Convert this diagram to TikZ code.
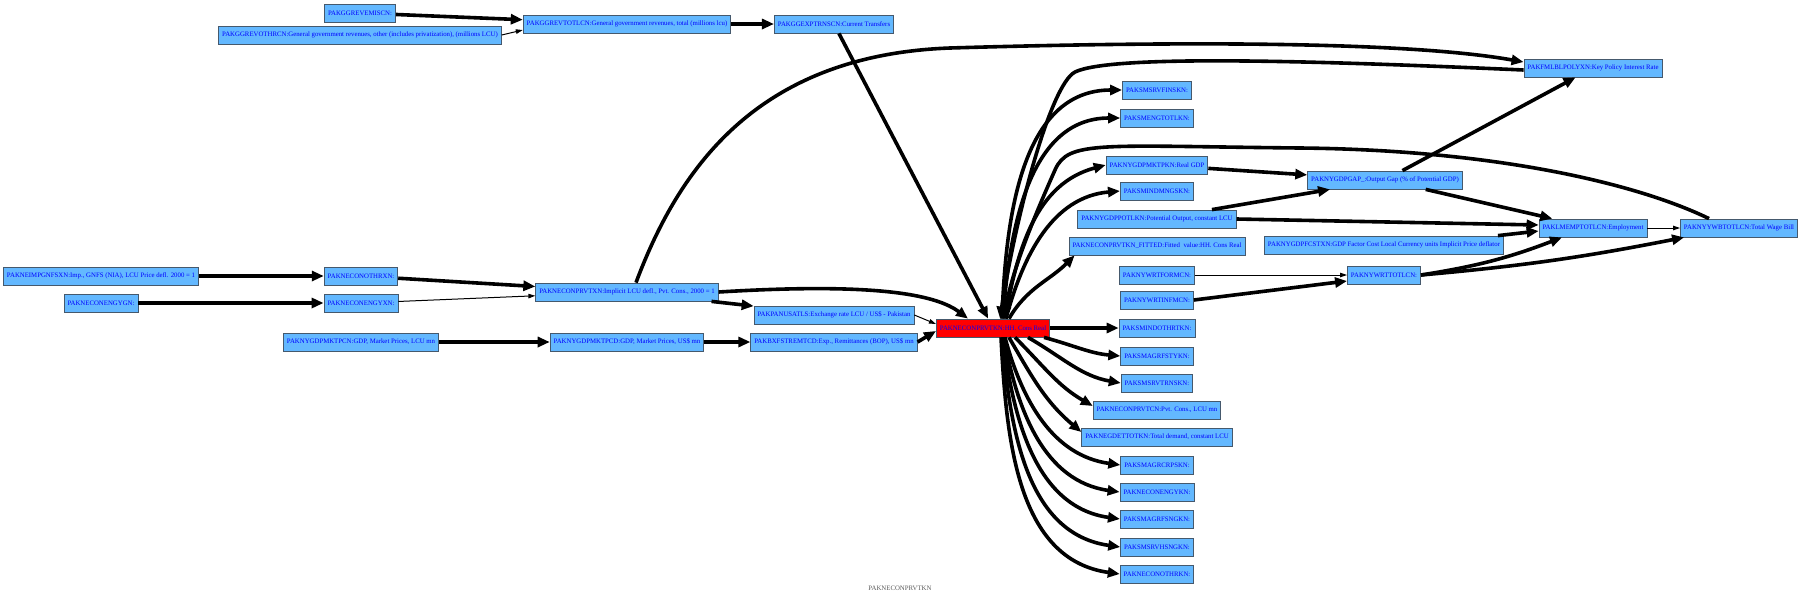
\documentclass[tikz,border=0pt]{standalone}
\usepackage{fontspec}
\setmainfont{Liberation Serif}
\usetikzlibrary{arrows.meta}
\definecolor{boite}{HTML}{63B8FF}
\definecolor{bord}{HTML}{45596D}

\begin{document}
\begin{tikzpicture}[x=1pt, y=-1pt,
    box/.style={draw=bord, line width=0.8pt, fill=boite, text=blue,
      font=\fontsize{6.8}{7}\selectfont, minimum height=18pt, inner xsep=3.5pt, inner ysep=2pt},
    hot/.style={box, fill=red},
    heavy/.style={line width=3.6pt, -{Triangle[length=12pt,width=10pt]}},
    light/.style={line width=1pt, -{Triangle[length=7pt,width=4.5pt]}}]
			\useasboundingbox (0,0) rectangle (1800,598);

			% Rang 1
			\node[box] (IMPG) at (101,276) {PAKNEIMPGNFSXN:Imp., GNFS (NIA), LCU Price defl. 2000 = 1};
			\node[box] (ENGYG) at (101,303) {PAKNECONENGYGN:};

			% Rang 2
			\node[box] (EMISC) at (360,13) {PAKGGREVEMISCN:};
			\node[box] (OTHRC) at (360,35) {PAKGGREVOTHRCN:General government revenues, other (includes privatization), (millions LCU)};
			\node[box] (OTHRX) at (361,276) {PAKNECONOTHRXN:};
			\node[box] (ENGYX) at (361,303) {PAKNECONENGYXN:};
			\node[box] (GDPLCU) at (361,342) {PAKNYGDPMKTPCN:GDP, Market Prices, LCU mn};

			% Rang 3
			\node[box] (REVTOT) at (627,24) {PAKGGREVTOTLCN:General government revenues, total (millions lcu)};
			\node[box] (DEFL) at (627,292) {PAKNECONPRVTXN:Implicit LCU defl., Pvt. Cons., 2000 = 1};
			\node[box] (GDPUSD) at (627,342) {PAKNYGDPMKTPCD:GDP, Market Prices, US\$ mn};

			% Rang 4
			\node[box] (TRNS) at (834,24) {PAKGGEXPTRNSCN:Current Transfers};
			\node[box] (FX) at (834,315) {PAKPANUSATLS:Exchange rate LCU / US\$ - Pakistan};
			\node[box] (REMIT) at (834,342) {PAKBXFSTREMTCD:Exp., Remittances (BOP), US\$ mn};

			% Noeud central
			\node[hot] (HH) at (993,328) {PAKNECONPRVTKN:HH. Cons Real};

			% Rang 6
			\node[box] (FINS) at (1157,90) {PAKSMSRVFINSKN:};
			\node[box] (ENGT) at (1157,118) {PAKSMENGTOTLKN:};
			\node[box] (RGDP) at (1157,165) {PAKNYGDPMKTPKN:Real GDP};
			\node[box] (MNGS) at (1157,191) {PAKSMINDMNGSKN:};
			\node[box] (POTL) at (1157,219) {PAKNYGDPPOTLKN:Potential Output, constant LCU};
			\node[box] (FIT) at (1157,246) {PAKNECONPRVTKN\_FITTED:Fitted\ \ value:HH. Cons Real};
			\node[box] (FORM) at (1157,275) {PAKNYWRTFORMCN:};
			\node[box] (INFM) at (1157,300) {PAKNYWRTINFMCN:};
			\node[box] (OTHT) at (1157,328) {PAKSMINDOTHRTKN:};
			\node[box] (FSTY) at (1157,356) {PAKSMAGRFSTYKN:};
			\node[box] (TRNK) at (1157,383) {PAKSMSRVTRNSKN:};
			\node[box] (PVTLCU) at (1157,410) {PAKNECONPRVTCN:Pvt. Cons., LCU mn};
			\node[box] (GDET) at (1157,437) {PAKNEGDETTOTKN:Total demand, constant LCU};
			\node[box] (CRPS) at (1157,465) {PAKSMAGRCRPSKN:};
			\node[box] (ENGK) at (1157,492) {PAKNECONENGYKN:};
			\node[box] (FSNG) at (1157,519) {PAKSMAGRFSNGKN:};
			\node[box] (HSNG) at (1157,547) {PAKSMSRVHSNGKN:};
			\node[box] (OTHK) at (1157,574) {PAKNECONOTHRKN:};

			% Rang 7
			\node[box] (GAP) at (1385,180) {PAKNYGDPGAP\_:Output Gap (\% of Potential GDP)};
			\node[box] (FCST) at (1384,245) {PAKNYGDPFCSTXN:GDP Factor Cost Local Currency units Implicit Price deflator};
			\node[box] (WRT) at (1384,275) {PAKNYWRTTOTLCN:};

			% Rangs 8 et 9
			\node[box] (POL) at (1593,68) {PAKFMLBLPOLYXN:Key Policy Interest Rate};
			\node[box] (EMP) at (1593,228) {PAKLMEMPTOTLCN:Employment};
			\node[box] (WAGE) at (1739,228) {PAKNYYWBTOTLCN:Total Wage Bill};

			% Titre
			\node[text=black!65, font=\fontsize{6.8}{7}\selectfont] (TITLE) at (900,588) {PAKNECONPRVTKN};

			% Revenus publics
			\draw[heavy] (EMISC) -- (REVTOT);
			\draw[light] (OTHRC.east) -- ([yshift=-6pt]REVTOT.west);
			\draw[heavy] (REVTOT) -- (TRNS);
			\draw[heavy] (TRNS) -- (HH);

			% Prix et change
			\draw[heavy] (IMPG) -- (OTHRX);
			\draw[heavy] (ENGYG) -- (ENGYX);
			\draw[heavy] (OTHRX) -- (DEFL);
			\draw[light] (ENGYX) -- (DEFL);
			\draw[heavy] (GDPLCU) -- (GDPUSD);
			\draw[heavy] (GDPUSD) -- (REMIT);
			\draw[heavy] (DEFL) -- (FX);
			\draw[light] (FX.east) -- ([yshift=4pt]HH.west);
			\draw[heavy] (REMIT.east) -- ([yshift=-3pt]HH.west);
			\draw[heavy] (DEFL.east) .. controls (850,284) and (930,290) .. ([xshift=-25pt]HH.north);
			\draw[heavy] ([xshift=9pt]DEFL.north) .. controls (680,165) and (760,55) .. (950,48)
			  .. controls (1150,42) and (1400,40) .. ([yshift=6pt]POL.west);

			% Retours vers HH
			\draw[heavy] ([yshift=-2pt]POL.west) .. controls (1300,60) and (1110,55) .. (1075,72)
			  .. controls (1050,85) and (1015,220) .. ([xshift=7pt]HH.north);
			\draw[heavy] ([xshift=-30pt]WAGE.north) .. controls (1640,185) and (1500,150) .. (1300,148)
			  .. controls (1100,146) and (1068,140) .. (1055,170)
			  .. controls (1035,215) and (1012,270) .. ([xshift=11pt]HH.north);

			% Eventail du haut
			\draw[heavy] ([xshift=9pt]HH.north) to[out=88,in=180] (FINS.west);
			\draw[heavy] ([xshift=10pt]HH.north) to[out=86,in=180] (ENGT.west);
			\draw[heavy] ([xshift=12pt]HH.north) to[out=80,in=195] (RGDP.west);
			\draw[heavy] ([xshift=13pt]HH.north) to[out=75,in=185] (MNGS.west);
			\draw[heavy] ([xshift=16pt]HH.north) to[out=60,in=-135] ([xshift=6pt]FIT.south west);

			% Eventail du bas
			\draw[heavy] (HH.east) -- (OTHT.west);
			\draw[heavy] ([xshift=-6pt]HH.south east) to[out=-15,in=175] (FSTY.west);
			\draw[heavy] ([xshift=35pt]HH.south) to[out=-30,in=170] (TRNK.west);
			\draw[heavy] ([xshift=22pt]HH.south) to[out=-45,in=150] ([yshift=4pt]PVTLCU.west);
			\draw[heavy] ([xshift=16pt]HH.south) to[out=-60,in=140] ([yshift=5pt]GDET.west);
			\draw[heavy] ([xshift=12pt]HH.south) to[out=-75,in=172] (CRPS.west);
			\draw[heavy] ([xshift=11pt]HH.south) to[out=-80,in=172] (ENGK.west);
			\draw[heavy] ([xshift=10pt]HH.south) to[out=-83,in=172] (FSNG.west);
			\draw[heavy] ([xshift=9pt]HH.south) to[out=-85,in=172] (HSNG.west);
			\draw[heavy] ([xshift=8pt]HH.south) to[out=-87,in=172] (OTHK.west);

			% Production et emploi
			\draw[heavy] (RGDP) -- (GAP);
			\draw[heavy] (POTL) -- (GAP);
			\draw[heavy] (POTL.east) -- ([yshift=3pt]EMP.west);
			\draw[heavy] (GAP) -- (POL);
			\draw[heavy] (GAP) -- (EMP);
			\draw[heavy] ([xshift=-6pt]FCST.north east) -- ([yshift=-3pt]EMP.west);
			\draw[light] (FORM) -- (WRT);
			\draw[heavy] (INFM.east) -- ([yshift=-6pt]WRT.west);
			\draw[heavy] (WRT.east) to[bend right=6] ([xshift=-31pt]EMP.south);
			\draw[heavy] (WRT.east) to[bend right=3] ([xshift=4pt]WAGE.south west);
			\draw[light] (EMP) -- (WAGE);

		\end{tikzpicture}
\end{document}
